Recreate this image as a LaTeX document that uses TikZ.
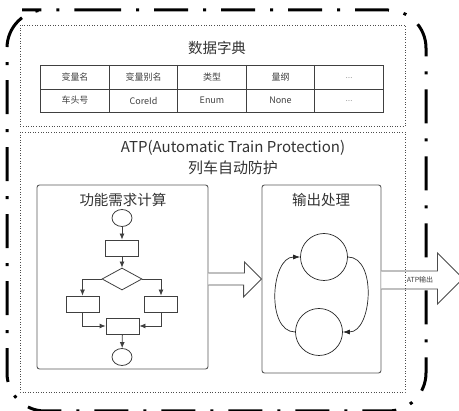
\documentclass[tikz,border=0pt]{standalone}
\usepackage{fontspec}
\setmainfont{Noto Sans CJK SC}
\usetikzlibrary{arrows.meta,shapes.geometric}

\newcommand{\more}{.\kern0.3pt.\kern0.3pt.}

\tikzset{
  frame/.style={line width=3pt, dash pattern=on 34pt off 15pt on 3pt off 15pt, dash phase=11pt},
  dotbox/.style={draw=black!70, dotted, line width=0.6pt},
  panel/.style={draw=black!65, line width=0.9pt, rounded corners=2.5pt},
  proc/.style={draw=black!75, line width=0.8pt, minimum width=33pt, minimum height=16pt, inner sep=0pt},
  term/.style={draw=black!75, line width=0.8pt, ellipse, minimum width=20pt, minimum height=17pt, inner sep=0pt},
  cond/.style={draw=black!75, line width=0.8pt, diamond, aspect=1.8, minimum width=40pt, minimum height=22pt, inner sep=0pt},
  flow/.style={draw=black!75, line width=0.8pt, -{Latex[length=6pt,width=5pt]}},
  state/.style={circle, draw=black!85, line width=0.7pt, minimum size=47pt, inner sep=0pt},
  loopback/.style={draw=black!85, line width=0.7pt, -{Latex[length=7pt,width=5pt]}},
  hollow/.style={draw=black!70, line width=0.9pt, fill=white},
  cell/.style={font=\fontsize{9}{10}\selectfont, text=black!75},
  head/.style={font=\fontsize{14.5}{18}\selectfont, text=black!80},
}

\begin{document}
\begin{tikzpicture}[x=1pt,y=-1pt]
\useasboundingbox (0,0) rectangle (459,411);

% outer frame
\draw[frame, rounded corners=38pt] (60,10) -- (426,10) -- (426,411) -- (7,411) -- (7,10) -- cycle;

% data dictionary
\node[head] (dicttitle) at (217,48) {数据字典};
\draw[draw=black!75, line width=0.8pt] (40.5,65) rectangle (383,112);
\draw[draw=black!75, line width=0.8pt] (40.5,89) -- (383,89);
\foreach \i in {1,...,4}
  \draw[draw=black!75, line width=0.8pt] (40.5+68.5*\i,65) -- (40.5+68.5*\i,112);
\foreach \i/\a/\b in {0/变量名/车头号, 1/变量别名/CoreId, 2/类型/Enum, 3/量纲/None} {
  \node[cell] (name\i) at (75+68.5*\i,77) {\a};
  \node[cell] (value\i) at (75+68.5*\i,100.5) {\b};
}
\node[cell, font=\fontsize{7}{8}\selectfont] (name4) at (349,78) {\more};
\node[cell, font=\fontsize{7}{8}\selectfont] (value4) at (349,101.5) {\more};

% ATP
\node[align=center, font=\fontsize{15}{21}\selectfont, text=black!80] (atptitle) at (233,158)
  {ATP(Automatic Train Protection)\\列车自动防护};

% function calculation panel
\node[panel, minimum width=171pt, minimum height=184pt] (calc) at (122.5,277) {};
\node[head] (calctitle) at (123,200) {功能需求计算};
\node[term] (start) at (122,218) {};
\node[proc] (p1) at (122,248) {};
\node[cond] (dec) at (122,279) {};
\node[proc] (pl) at (82.5,304) {};
\node[proc] (pr) at (161,304) {};
\node[proc] (pm) at (122.5,326) {};
\node[term] (stop) at (122,357) {};
\draw[flow] (start) -- (p1);
\draw[flow] (p1) -- (dec);
\draw[flow] (dec.west) -| (pl);
\draw[flow] (dec.east) -| (pr);
\draw[flow] (pl) |- (pm);
\draw[flow] (pr) |- (pm);
\draw[flow] (pm) -- (stop);

% output panel
\node[panel, minimum width=119pt, minimum height=188pt] (out) at (321.5,279) {};
\node[head] (outtitle) at (321,200) {输出处理};
\node[state] (s1) at (324,257) {};
\node[state] (s2) at (319,332) {};
\draw[loopback] (s2.west) to[out=180,in=180] (s1.west);
\draw[loopback] (s1.east) to[out=0,in=0] (s2.east);

% block arrows
\draw[hollow] ([yshift=4pt]calc.east) -- ++(36,0) -- ++(0,-11) -- (out.west)
  -- ++(-18,18) -- ++(0,-12) -- ([yshift=-8pt]calc.east);
\draw[hollow] ([yshift=8pt]out.east) -- ++(56,0) -- ++(0,-18) -- ++(25.5,25.5)
  -- ++(-25.5,25.5) -- ++(0,-15) -- ([yshift=-10pt]out.east);
\node[font=\fontsize{7}{8}\selectfont, text=black!75] (atpout) at (420,280) {ATP输出};

% dotted groups
\draw[dotbox] (20,25) rectangle (405,126);
\draw[dotbox] (20,132) rectangle (405,392);
\end{tikzpicture}
\end{document}
